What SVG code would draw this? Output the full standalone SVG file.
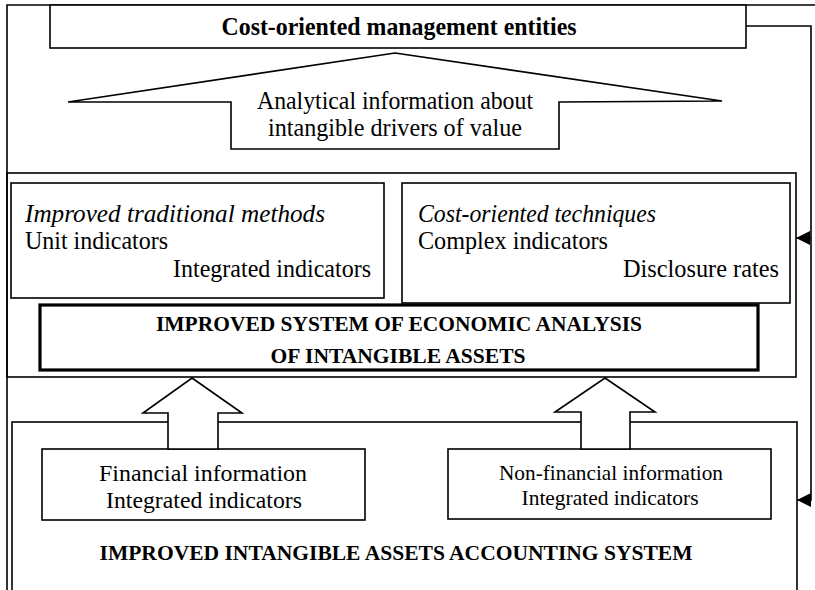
<svg xmlns="http://www.w3.org/2000/svg" width="815" height="590" viewBox="0 0 815 590">
<style>
.ln{fill:none;stroke:#000;stroke-width:1.6}
.bx{fill:#fff;stroke:#000;stroke-width:1.6}
.thick{fill:#fff;stroke:#000;stroke-width:3.2}
.t{font-family:"Liberation Serif","Times New Roman",serif;font-size:25px;fill:#000}
.it{font-style:italic}
.b{font-weight:bold}
.ttl{font-size:26px}
.f{font-size:23px}
.s{font-size:21px}
.bs{font-size:21px}
</style>
<defs>
<marker id="ah" markerWidth="14" markerHeight="14" refX="14" refY="7" orient="auto" markerUnits="userSpaceOnUse">
<path d="M0,0 L14,7 L0,14 Z" fill="#000"/>
</marker>
<clipPath id="clipThick"><rect x="42" y="307" width="714" height="61"/></clipPath>
</defs>
<rect x="0" y="0" width="815" height="590" fill="#fff"/>
<g id="outer-frame">
<path class="ln" d="M7,592 V5 H815"/>
</g>
<g id="middle-frame">
<rect class="ln" x="7" y="173" width="789" height="204"/>
</g>
<g id="lower-frame">
<rect class="ln" x="12" y="422" width="785" height="200"/>
</g>
<g id="management-entities">
<rect class="bx" x="50" y="5" width="696" height="43"/>
<text class="t b ttl" x="399" y="35" text-anchor="middle" textLength="355" lengthAdjust="spacingAndGlyphs">Cost-oriented management entities</text>
</g>
<g id="analytical-information">
<path class="bx" d="M395,53 L722,101 L559,102 L559,149 L231,149 L231,102 L68,102 Z"/>
<text class="t" x="395" y="109" text-anchor="middle" textLength="276" lengthAdjust="spacingAndGlyphs">Analytical information about</text>
<text class="t" x="395" y="136" text-anchor="middle" textLength="254" lengthAdjust="spacingAndGlyphs">intangible drivers of value</text>
</g>
<g id="traditional-methods">
<rect class="bx" x="11" y="183" width="373" height="115"/>
<text class="t it" x="25" y="222" textLength="300" lengthAdjust="spacingAndGlyphs">Improved traditional methods</text>
<text class="t" x="25" y="249" textLength="143" lengthAdjust="spacingAndGlyphs">Unit indicators</text>
<text class="t" x="173" y="277" textLength="198" lengthAdjust="spacingAndGlyphs">Integrated indicators</text>
</g>
<g id="cost-oriented-techniques">
<rect class="bx" x="402" y="183" width="388" height="120"/>
<text class="t it" x="418" y="222" textLength="238" lengthAdjust="spacingAndGlyphs">Cost-oriented techniques</text>
<text class="t" x="418" y="249" textLength="190" lengthAdjust="spacingAndGlyphs">Complex indicators</text>
<text class="t" x="623" y="277" textLength="156" lengthAdjust="spacingAndGlyphs">Disclosure rates</text>
</g>
<g id="economic-analysis">
<rect class="thick" x="40" y="305" width="718" height="65"/>
<g clip-path="url(#clipThick)">
<text class="t b bs" x="399" y="331" text-anchor="middle" textLength="486" lengthAdjust="spacingAndGlyphs">IMPROVED SYSTEM OF ECONOMIC ANALYSIS</text>
<text class="t b bs" x="398" y="363" text-anchor="middle" textLength="255" lengthAdjust="spacingAndGlyphs">OF INTANGIBLE ASSETS</text>
</g>
</g>
<g id="accounting-system">
<text class="t b bs" x="396" y="560" text-anchor="middle" textLength="593" lengthAdjust="spacingAndGlyphs">IMPROVED INTANGIBLE ASSETS ACCOUNTING SYSTEM</text>
</g>
<g id="financial-information">
<rect class="bx" x="42" y="449" width="323" height="71"/>
<text class="t f" x="203" y="481" text-anchor="middle" textLength="208" lengthAdjust="spacingAndGlyphs">Financial information</text>
<text class="t f" x="204" y="508" text-anchor="middle" textLength="196" lengthAdjust="spacingAndGlyphs">Integrated indicators</text>
</g>
<g id="non-financial-information">
<rect class="bx" x="448" y="449" width="323" height="70"/>
<text class="t s" x="611" y="480" text-anchor="middle" textLength="224" lengthAdjust="spacingAndGlyphs">Non-financial information</text>
<text class="t s" x="610" y="505" text-anchor="middle" textLength="177" lengthAdjust="spacingAndGlyphs">Integrated indicators</text>
</g>
<g id="connectors">
<path class="bx" d="M192,378 L242,413 L218,413 L218,449 L168,449 L168,413 L143,413 Z"/>
<path class="bx" d="M605,378 L655,412 L630,412 L630,449 L581,449 L581,412 L555,412 Z"/>
<path class="ln" d="M746,26 H811 V500 H797" marker-end="url(#ah)"/>
<path class="ln" d="M811,238 H796" marker-end="url(#ah)"/>
</g>
</svg>
